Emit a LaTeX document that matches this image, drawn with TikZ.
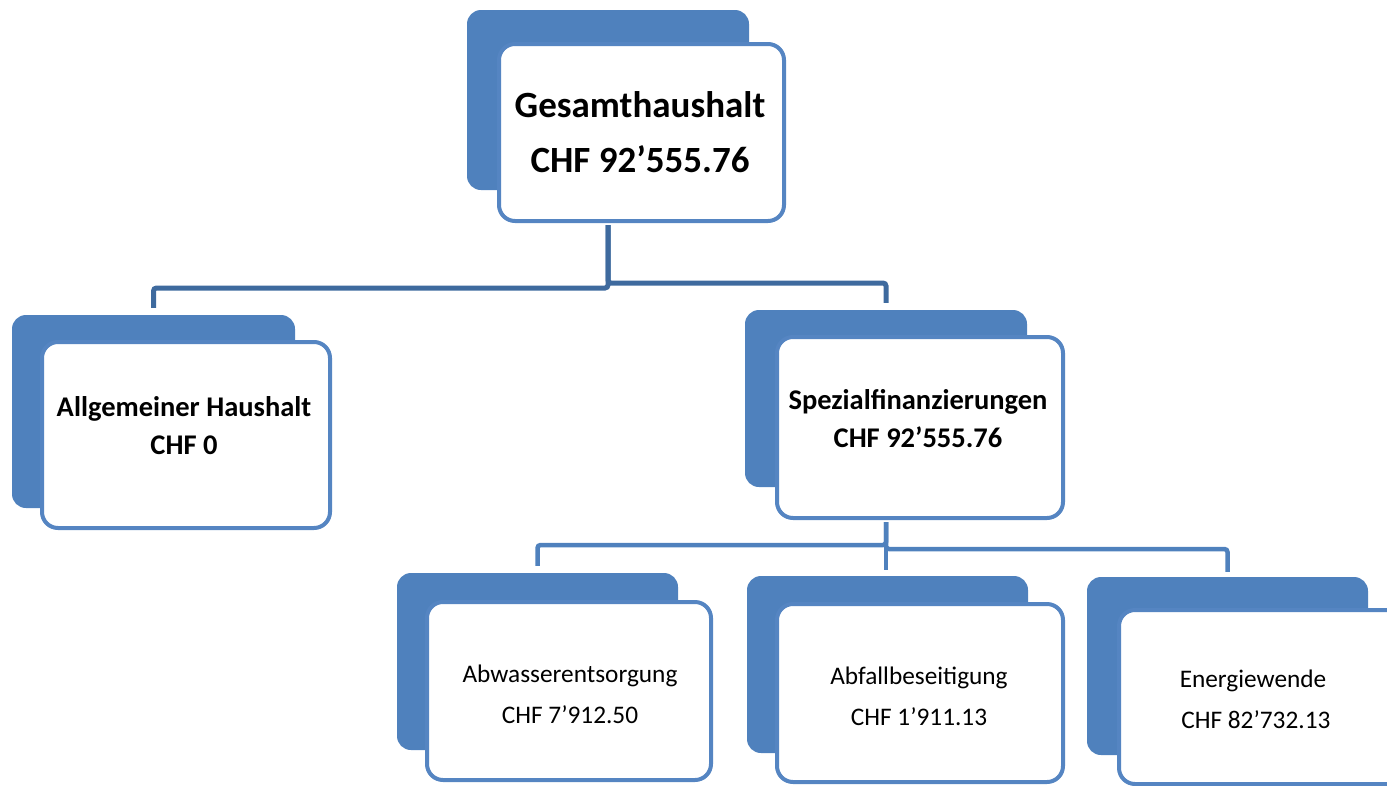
\documentclass[tikz,border=0pt]{standalone}
\usepackage{fontspec}
\setmainfont{Carlito}
\definecolor{backblue}{HTML}{4F81BD}
\definecolor{edgeblue}{HTML}{5585C2}
\definecolor{topblue}{HTML}{3E6A9E}
\begin{document}
\begin{tikzpicture}[x=1pt,y=-1pt,
  back/.style={rectangle, rounded corners=14pt, fill=backblue, inner sep=0pt},
  front/.style={rectangle, rounded corners=16pt, fill=white, draw=edgeblue, line width=4pt, inner sep=0pt},
  bigtxt/.style={font=\fontsize{37}{55}\selectfont\bfseries, align=center, inner sep=0pt},
  midtxt/.style={font=\fontsize{28.5}{38}\selectfont\bfseries, align=center, inner sep=0pt},
  smalltxt/.style={font=\fontsize{25.3}{41}\selectfont, align=center, inner sep=0pt},
  topline/.style={draw=topblue, line width=5pt, rounded corners=3pt},
  lowline/.style={draw=backblue, line width=4.5pt, rounded corners=3pt}]
\useasboundingbox (0,0) rectangle (1387,785);
\clip (0,0) rectangle (1387,785);

% Gesamthaushalt
\node[back, minimum width=282pt, minimum height=180pt] (gesB) at (608,100) {};
\node[front, minimum width=285pt, minimum height=177pt] (ges) at (641.5,132.5) {};
\node[bigtxt] (gesT) at (640,132.5) {Gesamthaushalt\\CHF 92’555.76};

% Allgemeiner Haushalt
\node[back, minimum width=283pt, minimum height=193pt] (allgB) at (153.5,411.5) {};
\node[front, minimum width=288pt, minimum height=186pt] (allg) at (186,435) {};
\node[midtxt] (allgT) at (184,426) {Allgemeiner Haushalt\\CHF 0};

% Spezialfinanzierungen
\node[back, minimum width=282pt, minimum height=177pt] (spezB) at (886,398.5) {};
\node[front, minimum width=286pt, minimum height=181pt] (spez) at (920,427.5) {};
\node[midtxt] (spezT) at (918,419) {Spezialfinanzierungen\\CHF 92’555.76};

% Abwasserentsorgung
\node[back, minimum width=281pt, minimum height=177pt] (abwB) at (537.5,661.5) {};
\node[front, minimum width=284pt, minimum height=178pt] (abw) at (569,691) {};
\node[smalltxt] (abwT) at (570,694) {Abwasserentsorgung\\CHF 7’912.50};

% Abfallbeseitigung
\node[back, minimum width=281pt, minimum height=177pt] (abfB) at (887.5,664.5) {};
\node[front, minimum width=286pt, minimum height=178pt] (abf) at (920,693) {};
\node[smalltxt] (abfT) at (919,696.5) {Abfallbeseitigung\\CHF 1’911.13};

% Energiewende
\node[back, minimum width=281pt, minimum height=178pt] (eneB) at (1227.5,666) {};
\node[front, minimum width=284pt, minimum height=174pt] (ene) at (1261,697) {};
\node[smalltxt] (eneT) at (1253,699.5) {Energiewende\\\ CHF 82’732.13};

% connectors, first level
\draw[topline] ([yshift=-2pt]gesB.center |- ges.south) -- ++(0,63) -| ([yshift=7pt]allgB.north);
\draw[topline] ([yshift=-2pt]gesB.center |- ges.south) -- ++(0,58) -| ([yshift=7pt]spezB.north);

% connectors, second level
\draw[lowline] ([yshift=-2pt]spezB.center |- spez.south) -- ++(0,23) -| ([yshift=7pt]abwB.north);
\draw[lowline] ([yshift=-2pt]spezB.center |- spez.south) -- ++(0,27) -| ([yshift=5pt]eneB.north);
\draw[lowline] ([yshift=-2pt]spezB.center |- spez.south) -- ([yshift=6pt]spezB.center |- abfB.north);
\end{tikzpicture}
\end{document}
